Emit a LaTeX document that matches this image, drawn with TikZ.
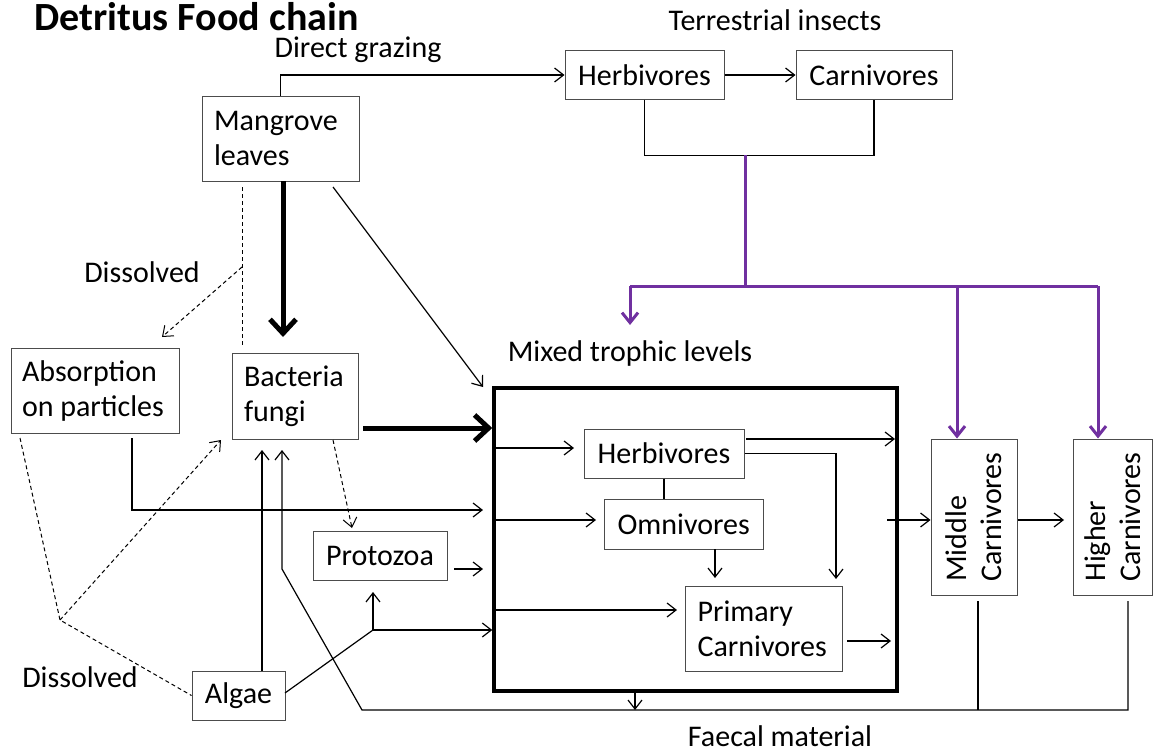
\documentclass[tikz,border=0pt]{standalone}
\usepackage{fontspec}
\setmainfont{Carlito}
\usetikzlibrary{arrows.meta}
\definecolor{purp}{RGB}{112,48,160}
\begin{document}
\begin{tikzpicture}[x=1pt,y=-1pt,
  every node/.style={font=\fontsize{30}{35}\selectfont, text=black},
  bx/.style={draw=black!70, line width=1pt, inner sep=0pt, align=center},
  lbx/.style={draw=black!70, line width=1pt, inner xsep=12pt, inner ysep=0pt, align=flush left},
  con/.style={line width=1.2pt, -{Straight Barb[length=9pt,width=14pt]}},
  ln/.style={line width=1.2pt},
  dsh/.style={line width=1pt, dash pattern=on 4pt off 3pt},
  dsha/.style={dsh, -{Straight Barb[length=9pt,width=14pt]}},
  thk/.style={line width=5pt, -{Straight Barb[length=14pt,width=26pt]}},
  pur/.style={draw=purp, line width=3pt},
  pura/.style={pur, -{Straight Barb[length=10pt,width=16pt]}},
]
\useasboundingbox (0,0) rectangle (1153,752);
\fill[white] (0,0) rectangle (1153,752);

% texts
\node[anchor=west, font=\fontsize{40}{46}\selectfont\bfseries] (title) at (31,17) {Detritus Food chain};
\node (tdg) at (358,50) {Direct grazing};
\node (tti) at (775,20) {Terrestrial insects};
\node (tdu) at (142,272) {Dissolved};
\node (tdl) at (80,677) {Dissolved};
\node (tmt) at (630,353) {Mixed trophic levels};
\node (tfm) at (780,736) {Faecal material};

% boxes
\node[lbx, text width=133pt, minimum height=85pt] (mang) at (280.5,138.5) {Mangrove\\leaves};
\node[bx, minimum width=159pt, minimum height=48pt] (th) at (644.5,75) {Herbivores};
\node[bx, minimum width=156pt, minimum height=48pt] (tc) at (874,75) {Carnivores};
\node[lbx, text width=146pt, minimum height=85pt, inner xsep=11pt] (abs) at (95,390.5) {Absorption\\on particles};
\node[lbx, text width=102pt, minimum height=86pt] (bact) at (295,396) {Bacteria\\fungi};
\node[bx, minimum width=134pt, minimum height=49pt] (proto) at (380,555.5) {Protozoa};
\node[bx, minimum width=93pt, minimum height=49pt] (alg) at (238.5,695.5) {Algae};
\node[draw=black, line width=3.5pt, minimum width=403pt, minimum height=303pt, inner sep=0pt] (mix) at (695.5,539.5) {};
\node[bx, minimum width=160pt, minimum height=49pt] (ih) at (664,453.5) {Herbivores};
\node[bx, minimum width=158.5pt, minimum height=50pt] (omni) at (683.75,524) {Omnivores};
\node[lbx, text width=132.4pt, minimum height=85pt] (prim) at (763.8,628.5) {Primary\\Carnivores};
\node[bx, minimum width=86pt, minimum height=156pt] (mid) at (974,517) {};
\node[rotate=90, align=left] (midt) at (mid.center) {Middle\\Carnivores};
\node[bx, minimum width=78.4pt, minimum height=156pt] (hig) at (1112.8,517) {};
\node[rotate=90, align=left] (higt) at (hig.center) {Higher\\Carnivores};

% coordinates
\coordinate (pj) at (745,155);
\coordinate (ph) at (745,286);
\coordinate (pl) at (630,286);
\coordinate (pr) at (1098,286);
\coordinate (pm) at (957,286);
\coordinate (ptip) at (630,325);
\coordinate (mg1) at (333,187);
\coordinate (mg2) at (483,387);
\coordinate (dv1) at (242,187);
\coordinate (dv2) at (242,345);
\coordinate (dj) at (242,267);
\coordinate (dtip) at (162,337);
\coordinate (ab1) at (132,438);
\coordinate (ab2) at (483,510);
\coordinate (bp1) at (333,440);
\coordinate (bp2) at (352,528);
\coordinate (pz1) at (454,569);
\coordinate (pz2) at (483,569);
\coordinate (aj) at (373,630);
\coordinate (fh) at (1128,601);
\coordinate (fm) at (978,601);
\coordinate (fl) at (362,710);
\coordinate (fk) at (282,569);
\coordinate (dd) at (60,620);
\coordinate (ad1) at (20,438);

% top part
\draw[con] (mang.north) |- (th.west);
\draw[con] (th.east) -- (tc.west);
\draw[ln] (th.south) -- ++(0,56) -| (tc.south);
\draw[pur] (pj) -- (ph);
\draw[pur] (pl) -- (pr);
\draw[pura] (pl) -- (ptip);
\draw[pura] (pm) -- (pm |- mid.north);
\draw[pura] (pr) -- (pr |- hig.north);

% mangrove outputs
\draw[thk] (283,181) -- (283,337);
\draw[con] (mg1) -- (mg2);
\draw[dsh] (dv1) -- (dv2);
\draw[dsha] (dj) -- (dtip);
\draw[thk] (363,428) -- (mix.west |- 0,428);

% absorption & protozoa & algae
\draw[con] (ab1) |- (ab2);
\draw[dsha] (bp1) -- (bp2);
\draw[con] (pz1) -- (pz2);
\draw[con] (alg.north -| 262,0) -- (262,450);
\draw[ln] (285,693) -- (aj);
\draw[con] (aj) -- (373,592);
\draw[con] (aj) -- (mix.west |- aj);
\draw[dsh] (ad1) -- (dd) -- (alg.west);
\draw[dsha] (dd) -- (221,440);

% faecal
\draw[con] (fh) |- (fl) -- (fk) -- (282,450);
\draw[ln] (fm) -- (978,710);
\draw[con] (635,691) -- (635,710);

% inside mixed box
\draw[con] (494,448) -- (574,448);
\draw[con] (494,520) -- (596,520);
\draw[con] (494,610) -- (677,610);
\draw[ln] (ih.south) -- (ih.south |- omni.north);
\draw[con] (715,549) -- (715,578);
\draw[con] (ih.east) -| (836,579);
\draw[con] (746,439) -- (895,439);
\draw[con] (847,641) -- (891,641);

% to carnivores
\draw[con] (887,520) -- (mid.west |- 0,520);
\draw[con] (mid.east |- 0,520) -- (1064,520);
\end{tikzpicture}
\end{document}
